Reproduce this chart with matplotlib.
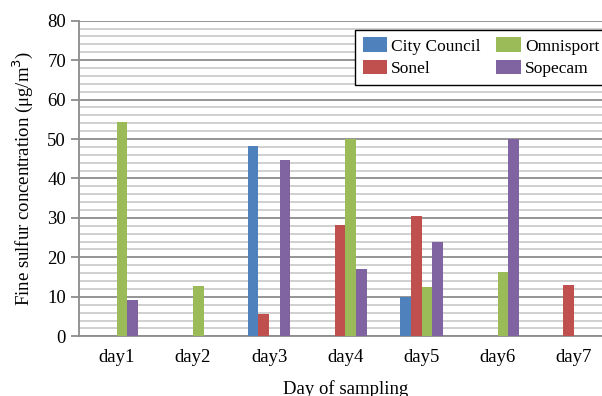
import numpy as np
import matplotlib
matplotlib.use("Agg")
import matplotlib.pyplot as plt
from matplotlib.ticker import MultipleLocator

plt.rcParams['font.family'] = ['Liberation Serif', 'DejaVu Serif']

days = ['day1', 'day2', 'day3', 'day4', 'day5', 'day6', 'day7']
city_council = [0, 0, 48.3, 0, 10.0, 0, 0]
sonel = [0, 0, 5.6, 28.2, 30.4, 0, 13.0]
omnisport = [54.2, 12.7, 0, 50.1, 12.6, 16.4, 0]
sopecam = [9.2, 0, 44.7, 17.0, 23.8, 50.1, 0]

series = [
    ('City Council', city_council, '#4F81BD'),
    ('Sonel', sonel, '#C0504D'),
    ('Omnisport', omnisport, '#9BBB59'),
    ('Sopecam', sopecam, '#8064A2'),
]

fig = plt.figure(figsize=(6.02, 3.96), dpi=100)
# axes run a bit past the right edge of the canvas
ax = fig.add_axes([0.1306, 0.1508, 0.886, 0.797])

x = np.arange(len(days))
w = 0.14
for i, (name, vals, col) in enumerate(series):
    ax.bar(x + (i - 1.5) * w, vals, w, color=col, label=name, zorder=3)

ax.set_xlim(-0.5, len(days) - 0.5)
ax.set_ylim(0, 80)
ax.yaxis.set_major_locator(MultipleLocator(10))
ax.yaxis.set_minor_locator(MultipleLocator(2))
ax.grid(which='major', axis='y', color='#8c8c8c', linewidth=1.3, zorder=0)
ax.grid(which='minor', axis='y', color='#c4c4c4', linewidth=1.1, zorder=0)

for s in ['top', 'right']:
    ax.spines[s].set_visible(False)
ax.spines['left'].set_color('#8c8c8c')
ax.spines['bottom'].set_color('#8c8c8c')
ax.spines['left'].set_linewidth(1.3)
ax.spines['bottom'].set_linewidth(1.3)

ax.tick_params(axis='y', which='major', length=6, width=1.3, color='#8c8c8c',
               labelsize=13.5, pad=3)
ax.tick_params(axis='y', which='minor', length=0)
ax.tick_params(axis='x', length=0, labelsize=13.5, pad=9)

ax.set_xticks(x)
ax.set_xticklabels(days)
ax.set_ylabel('Fine sulfur concentration (μg/m$^3$)', fontsize=13.5, labelpad=9)
ax.set_xlabel('Day of sampling', fontsize=13.5, labelpad=10)

leg = ax.legend(ncol=2, loc='upper left', bbox_to_anchor=(0.518, 0.972),
                fontsize=12.5, frameon=True, fancybox=False, edgecolor='black',
                framealpha=1, borderpad=0.45, handlelength=1.4, handleheight=0.9,
                handletextpad=0.25, columnspacing=0.9, labelspacing=0.3,
                borderaxespad=0)
leg.get_frame().set_linewidth(1.0)
leg.set_zorder(5)

fig.savefig('out.png', dpi=100)
